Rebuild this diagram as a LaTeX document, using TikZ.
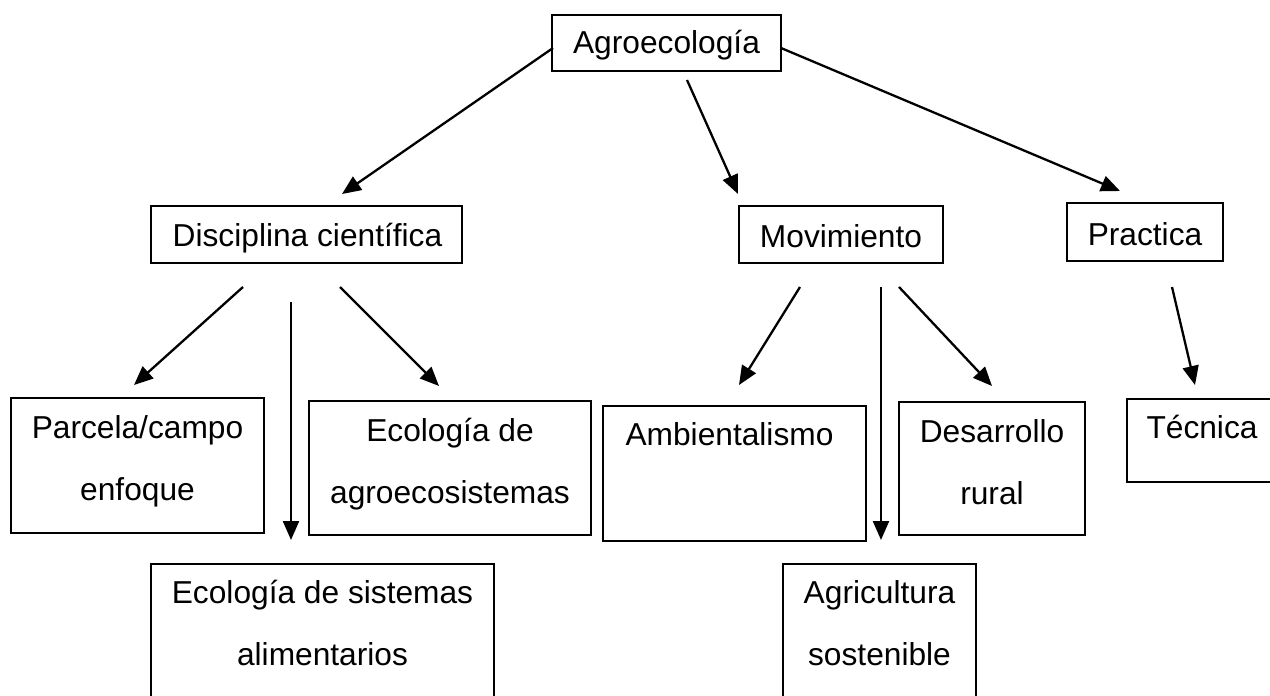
\documentclass[tikz,border=0pt]{standalone}
\usepackage{fontspec}
\setmainfont{Liberation Sans}
\usetikzlibrary{positioning, calc, arrows.meta}
\tikzset{box/.style = {draw, rectangle, line width=1.3pt, inner sep=0, outer sep=0}}
\tikzset{txt/.style = {anchor=base, inner sep=0, font=\fontsize{31.7}{62}\selectfont}}
\tikzset{arr/.style = {line width=2.3pt, -{Triangle[length=19pt,width=16pt]}}}
\newcommand{\twolines}[2]{\begin{tabular}[t]{@{}c@{}}#1\\#2\end{tabular}}

\begin{document}
\begin{tikzpicture}[x=1pt, y=-1pt]
    \useasboundingbox (0,0) rectangle (1270,696);

    % first two rows
    \node [box, minimum width=229, minimum height=56] (agro)  at (666.5, 43)   {};
    \node [box, minimum width=311, minimum height=57] (disc)  at (306.5, 234.5) {};
    \node [box, minimum width=204, minimum height=57] (mov)   at (841,   234.5) {};
    \node [box, minimum width=156, minimum height=58] (prac)  at (1145,  232)   {};

    % lower boxes
    \node [box, minimum width=253, minimum height=135] (parc)    at (137.5, 465.5) {};
    \node [box, minimum width=282, minimum height=134] (ecoagro) at (450,   468)   {};
    \node [box, minimum width=343, minimum height=196] (ecosist) at (322.5, 662)   {};
    \node [box, minimum width=263, minimum height=135] (amb)     at (734.5, 473.5) {};
    \node [box, minimum width=186, minimum height=133] (desa)    at (992,   468.5) {};
    \node [box, minimum width=193, minimum height=196] (agri)    at (879.5, 662)   {};
    \node [box, minimum width=150, minimum height=83]  (tec)     at (1202,  440.5) {};

    % texts
    \node [txt] (agro-t)    at ($(agro.north)+(0,38)$)    {Agroecología};
    \node [txt] (disc-t)    at ($(disc.north)+(1,40)$)    {Disciplina científica};
    \node [txt] (mov-t)     at ($(mov.north)+(0,41)$)     {Movimiento};
    \node [txt] (prac-t)    at ($(prac.north)+(0,42)$)    {Practica};
    \node [txt] (parc-t)    at ($(parc.north)+(0,40)$)    {\twolines{Parcela/campo}{enfoque}};
    \node [txt] (ecoagro-t) at ($(ecoagro.north)+(0,40)$) {\twolines{Ecología de}{agroecosistemas}};
    \node [txt] (ecosist-t) at ($(ecosist.north)+(0,39)$) {\twolines{Ecología de sistemas}{alimentarios}};
    \node [txt] (amb-t)     at ($(amb.north)+(-5,39)$)    {Ambientalismo};
    \node [txt] (desa-t)    at ($(desa.north)+(0,40)$)    {\twolines{Desarrollo}{rural}};
    \node [txt] (agri-t)    at ($(agri.north)+(0,39)$)    {\twolines{Agricultura}{sostenible}};
    \node [txt] (tec-t)     at ($(tec.north)+(0,39)$)     {Técnica};

    % arrows
    \draw [arr] ($(agro.west)+(1,5)$)     -- ($(disc.north)+(35.5,-12)$);
    \draw [arr] ($(agro.south)+(20.5,9)$) -- ($(mov.north)+(-103,-12)$);
    \draw [arr] ($(agro.east)+(0,5)$)     -- ($(prac.north)+(-25,-12)$);

    \draw [arr] ($(disc.south)+(-63.5,24)$) -- ($(parc.north)+(-3.5,-13)$);
    \draw [arr] ($(disc.south)+(-15.5,39)$) -- ($(ecosist.north)+(-31.5,-24)$);
    \draw [arr] ($(disc.south)+(33.5,24)$)  -- ($(ecoagro.north)+(-11,-15)$);

    \draw [arr] ($(mov.south)+(-41,24)$) -- ($(amb.north)+(4.5,-21)$);
    \draw [arr] ($(mov.south)+(40,24)$)  -- ($(agri.north)+(1.5,-24)$);
    \draw [arr] ($(mov.south)+(58,24)$)  -- ($(desa.north)+(0,-16)$);

    \draw [arr] ($(prac.south)+(27,26)$) -- ($(tec.north)+(-7,-14)$);
\end{tikzpicture}
\end{document}
